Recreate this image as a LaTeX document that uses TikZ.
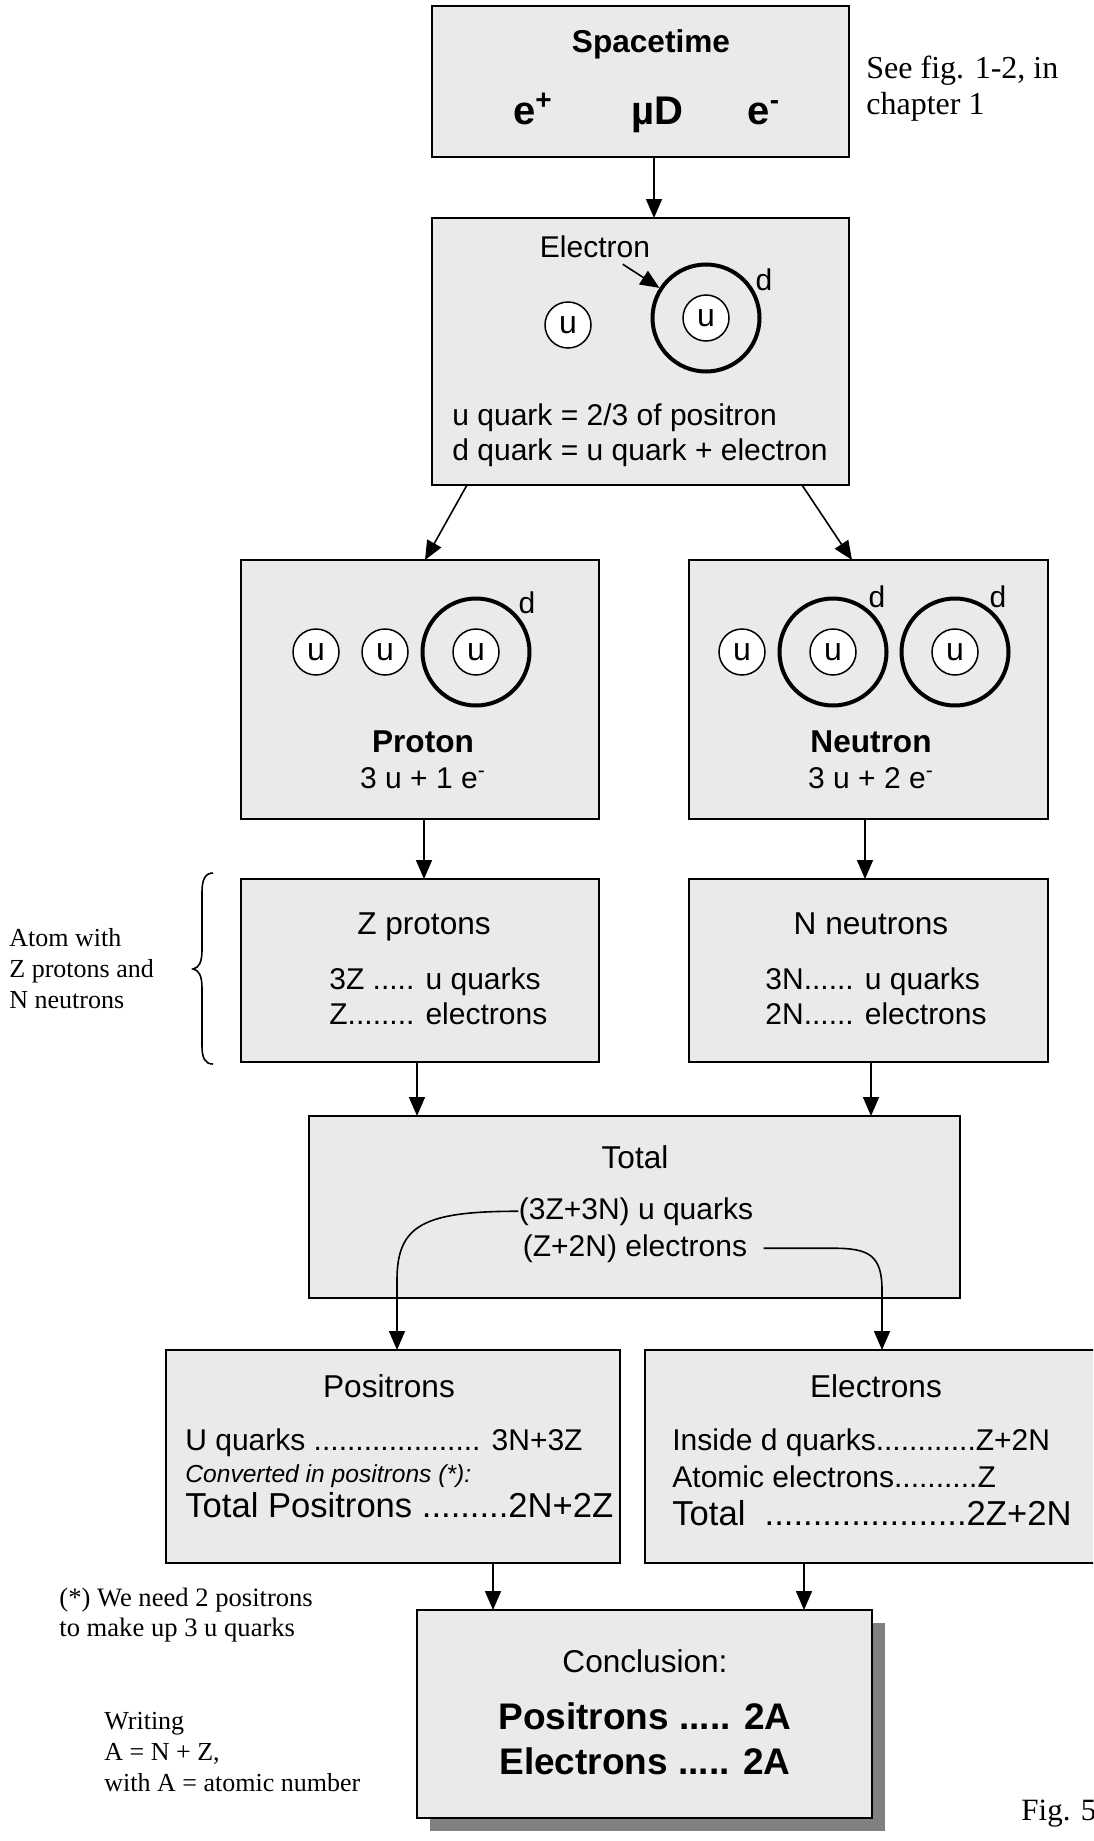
\documentclass[tikz,border=0pt]{standalone}
\usepackage{fontspec}
\setmainfont{Liberation Serif}
\setsansfont{Liberation Sans}
\usetikzlibrary{arrows.meta,shadows}
\definecolor{boxfill}{RGB}{234,234,234}
\definecolor{shadowgray}{RGB}{128,128,128}

\begin{document}
\begin{tikzpicture}[x=0.5pt, y=-0.5pt,
  panel/.style={rectangle, draw=black, line width=1pt, fill=boxfill, inner sep=0pt, outer sep=0pt},
  link/.style={line width=0.8pt, -{Triangle[length=9.5pt, width=8pt]}},
  bodytxt/.style={font=\sffamily\fontsize{15}{18}\selectfont, inner sep=0pt},
  itxt/.style={font=\sffamily\itshape\fontsize{12.3}{15}\selectfont, inner sep=0pt},
  bigline/.style={font=\sffamily\fontsize{17.3}{20}\selectfont, inner sep=0pt},
  headtxt/.style={font=\sffamily\fontsize{15.8}{19}\selectfont, inner sep=0pt},
  boldtxt/.style={font=\sffamily\bfseries\fontsize{15.8}{19}\selectfont, inner sep=0pt},
  hugetxt/.style={font=\sffamily\bfseries\fontsize{20}{24}\selectfont, inner sep=0pt},
  conctxt/.style={font=\sffamily\bfseries\fontsize{18.5}{22}\selectfont, inner sep=0pt},
  notetxt/.style={font=\rmfamily\fontsize{13}{16}\selectfont, inner sep=0pt},
  seetxt/.style={font=\rmfamily\fontsize{16}{19}\selectfont, inner sep=0pt},
  ucirc/.style={circle, draw=black, line width=0.75pt, fill=white, minimum size=23pt, inner sep=0pt,
                font=\sffamily\fontsize{16}{19}\selectfont},
  dcirc/.style={circle, draw=black, line width=2pt, minimum size=53.5pt, inner sep=0pt},
]
\useasboundingbox (0,0) rectangle (1093,1841);
\fill[white] (0,0) rectangle (1093,1841);
\clip (0,0) rectangle (1093,1841);

% ---------- boxes ----------
\node[panel, minimum width=208.5pt, minimum height=75.5pt]  (st)   at (640.5,81.5)  {};
\node[panel, minimum width=208.5pt, minimum height=133.5pt] (qk)   at (640.5,351.5) {};
\node[panel, minimum width=179pt,   minimum height=129.5pt] (pr)   at (420,689.5)   {};
\node[panel, minimum width=179.5pt, minimum height=129.5pt] (ne)   at (868.5,689.5) {};
\node[panel, minimum width=179pt,   minimum height=91.5pt]  (zb)   at (420,970.5)   {};
\node[panel, minimum width=179.5pt, minimum height=91.5pt]  (nb)   at (868.5,970.5) {};
\node[panel, minimum width=325.5pt, minimum height=91pt]    (tot)  at (634.5,1207)  {};
\node[panel, minimum width=227pt,   minimum height=106.5pt] (pos)  at (393,1456.5)  {};
\node[panel, minimum width=227.5pt, minimum height=106.5pt] (ele)  at (872.5,1456.5){};
\node[panel, minimum width=227.5pt, minimum height=104pt,
      drop shadow={shadow xshift=6.5pt, shadow yshift=-6.5pt, fill=shadowgray, opacity=1}]
      (con) at (644.5,1714) {};

% ---------- spacetime ----------
\node[boldtxt, anchor=base] (stT) at (651,53) {Spacetime};
\node[hugetxt, anchor=base] (stA) at (533,125) {e\textsuperscript{+}};
\node[hugetxt, anchor=base] (stB) at (657,125) {µD};
\node[hugetxt, anchor=base] (stC) at (764,125) {e\textsuperscript{-}};
\node[seetxt, anchor=base west] (see1) at (866,79)  {See fig. 1-2, in};
\node[seetxt, anchor=base west] (see2) at (866,114) {chapter 1};

% ---------- quarks ----------
\node[bodytxt, anchor=base] (elab) at (595,257) {Electron};
\node[dcirc] (qd) at (706,318) {};
\node[ucirc] (qu2) at (706,318) {u};
\node[ucirc] (qu1) at (568,325) {u};
\node[bodytxt, anchor=base] (qdl) at (764,290) {d};
\node[bodytxt, anchor=base west] (ql1) at (452,425) {u quark = 2/3 of positron};
\node[bodytxt, anchor=base west] (ql2) at (452,460) {d quark = u quark + electron};
\draw[link, shorten <=6pt] (elab) -- (qd);

% ---------- proton ----------
\node[ucirc] (pu1) at (316,652) {u};
\node[ucirc] (pu2) at (385,652) {u};
\node[dcirc] (pd)  at (476,652) {};
\node[ucirc] (pu3) at (476,652) {u};
\node[bodytxt, anchor=base] (pdl) at (527,613) {d};
\node[boldtxt, anchor=base] (prT) at (423,752) {Proton};
\node[bodytxt, anchor=base] (prS) at (423,788) {3 u + 1 e\textsuperscript{-}};

% ---------- neutron ----------
\node[ucirc] (nu1) at (742,652) {u};
\node[dcirc] (nd1) at (833,652) {};
\node[ucirc] (nu2) at (833,652) {u};
\node[dcirc] (nd2) at (955,652) {};
\node[ucirc] (nu3) at (955,652) {u};
\node[bodytxt, anchor=base] (ndl1) at (877,607) {d};
\node[bodytxt, anchor=base] (ndl2) at (998,607) {d};
\node[boldtxt, anchor=base] (neT) at (871,752) {Neutron};
\node[bodytxt, anchor=base] (neS) at (871,788) {3 u + 2 e\textsuperscript{-}};

% ---------- Z protons / N neutrons ----------
\node[headtxt, anchor=base] (zbT) at (424,934) {Z protons};
\node[bodytxt, anchor=base west] (zb1) at (329,989)  {3Z ..... u quarks};
\node[bodytxt, anchor=base west] (zb2) at (329,1024) {Z........ electrons};
\node[headtxt, anchor=base] (nbT) at (871,934) {N neutrons};
\node[bodytxt, anchor=base west] (nb1) at (765,989)  {3N...... u quarks};
\node[bodytxt, anchor=base west] (nb2) at (765,1024) {2N...... electrons};

\node[notetxt, anchor=base west] (at1) at (9,946)  {Atom with};
\node[notetxt, anchor=base west] (at2) at (9,977)  {Z protons and};
\node[notetxt, anchor=base west] (at3) at (9,1008) {N neutrons};
\draw[line width=0.8pt] (213,873) .. controls (205,873) and (202,880) .. (202,892)
  -- (202,950) .. controls (202,962) and (199,968) .. (193,969)
  .. controls (199,970) and (202,976) .. (202,988)
  -- (202,1046) .. controls (202,1058) and (205,1064) .. (213,1064);

% ---------- total ----------
\node[headtxt, anchor=base] (totT) at (635,1168) {Total};
\node[bodytxt, anchor=base] (uq)  at (636,1219) {(3Z+3N) u quarks};
\node[bodytxt, anchor=base] (elq) at (635,1256) {(Z+2N) electrons};

% ---------- positrons ----------
\node[headtxt, anchor=base] (posT) at (389,1397) {Positrons};
\node[bodytxt, anchor=base west] (pos1) at (185,1450) {U quarks .................... 3N+3Z};
\node[itxt, anchor=base west] (pos2) at (185,1482) {Converted in positrons (*):};
\node[bigline, anchor=base west] (pos3) at (185,1517) {Total Positrons .........2N+2Z};

% ---------- electrons ----------
\node[headtxt, anchor=base] (eleT) at (876,1397) {Electrons};
\node[bodytxt, anchor=base west] (ele1) at (672,1450) {Inside d quarks............Z+2N};
\node[bodytxt, anchor=base west] (ele2) at (672,1487) {Atomic electrons..........Z};
\node[bigline, anchor=base west] (ele3) at (672,1525) {Total\ \ .....................2Z+2N};

% ---------- conclusion ----------
\node[headtxt, anchor=base] (conT) at (645,1672) {Conclusion:};
\node[conctxt, anchor=base] (con1) at (645,1729) {Positrons ..... 2A};
\node[conctxt, anchor=base] (con2) at (645,1774) {Electrons ..... 2A};

% ---------- side notes ----------
\node[notetxt, anchor=base west, font=\rmfamily\fontsize{13.3}{16}\selectfont] (fn1) at (59,1606) {(*) We need 2 positrons};
\node[notetxt, anchor=base west, font=\rmfamily\fontsize{13.3}{16}\selectfont] (fn2) at (59,1636) {to make up 3 u quarks};
\node[notetxt, anchor=base west] (wr1) at (104,1729) {Writing};
\node[notetxt, anchor=base west] (wr2) at (104,1760) {A = N + Z,};
\node[notetxt, anchor=base west] (wr3) at (104,1791) {with A = atomic number};
\node[seetxt, anchor=base west, font=\rmfamily\fontsize{15.5}{18}\selectfont] (fig) at (1021,1820) {Fig. 5};

% ---------- connectors ----------
\draw[link] ([xshift=6.75pt]st.south) -- ([xshift=6.75pt]qk.north);
\draw[link] ([xshift=-86.75pt]qk.south) -- ([xshift=2.5pt]pr.north);
\draw[link] ([xshift=80.75pt]qk.south) -- ([xshift=-8.25pt]ne.north);
\draw[link] ([xshift=2pt]pr.south) -- ([xshift=2pt]zb.north);
\draw[link] ([xshift=-1.75pt]ne.south) -- ([xshift=-1.75pt]nb.north);
\draw[link] ([xshift=-1.5pt]zb.south) -- ([xshift=-108.75pt]tot.north);
\draw[link] ([xshift=1.25pt]nb.south) -- ([xshift=118.25pt]tot.north);
\coordinate (bendA) at (397,1280);
\coordinate (bendB) at (882,1290);
\draw[link] (uq.west) .. controls +(-95,0) and +(0,-55) .. (bendA) -- ([xshift=2pt]pos.north);
\draw[link] ([xshift=8pt]elq.east) -- ++(70,0) .. controls +(35,0) and +(0,-35) .. (bendB)
  -- ([xshift=4.75pt]ele.north);
\draw[link] ([xshift=50pt]pos.south) -- ([xshift=-75.75pt]con.north);
\draw[link] ([xshift=-34.25pt]ele.south) -- ([xshift=79.75pt]con.north);
\end{tikzpicture}
\end{document}
